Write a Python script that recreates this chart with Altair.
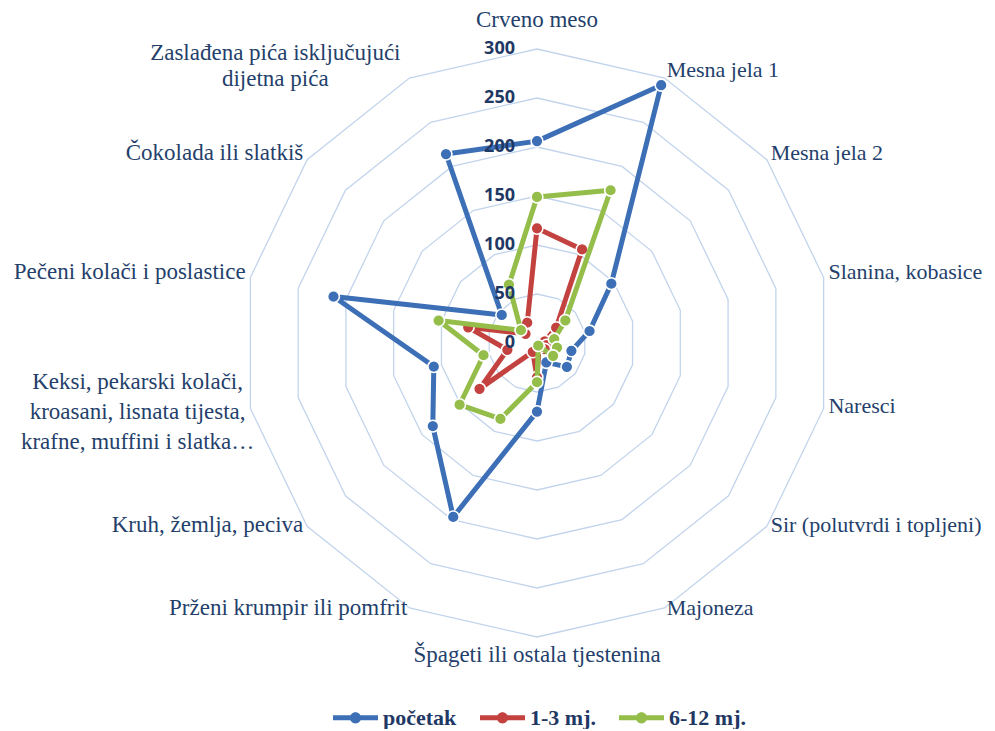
import altair as alt
import pandas as pd

# ---------------- data ----------------
categories = [
    "Crveno meso",
    "Mesna jela 1",
    "Mesna jela 2",
    "Slanina, kobasice",
    "Naresci",
    "Sir (polutvrdi i topljeni)",
    "Majoneza",
    "Špageti ili ostala tjestenina",
    "Prženi krumpir ili pomfrit",
    "Kruh, žemlja, peciva",
    "Keksi, pekarski kolači,\nkroasani, lisnata tijesta,\nkrafne, muffini i slatka…",
    "Pečeni kolači i poslastice",
    "Čokolada ili slatkiš",
    "Zaslađena pića isključujući\ndijetna pića",
]
series_names = ["početak", "1-3 mj.", "6-12 mj."]
pocetak = [206, 292, 97, 55, 36, 39, 22, 70, 197, 136, 108, 213, 46, 214]
mj_1_3 = [117, 106, 25, 8, 10, 10, 5, 35, 10, 75, 31, 72, 15, 23]
mj_6_12 = [149, 173, 37, 18, 21, 21, 3, 40, 86, 101, 56, 103, 21, 66]
ring_values = [50, 100, 150, 200, 250, 300]
tick_values = [0, 50, 100, 150, 200, 250, 300]
colors = ["#3c6fb6", "#c3423f", "#94bd4a"]

N = len(categories)

# ---------------- tables ----------------
rows = []
for name, vals in zip(series_names, [pocetak, mj_1_3, mj_6_12]):
    for i in range(N + 1):
        rows.append({"series": name, "idx": i, "v": vals[i % N]})
series_df = pd.DataFrame(rows)

ring_rows = []
for r in ring_values:
    for i in range(N + 1):
        ring_rows.append({"ring": r, "idx": i, "v": r})
ring_df = pd.DataFrame(ring_rows)

tick_df = pd.DataFrame({"v": tick_values, "idx": [0] * len(tick_values),
                        "label": [str(t) for t in tick_values]})

label_df = pd.DataFrame({"idx": list(range(N)), "label": categories, "v": [305] * N})

# ---------------- layout ----------------
W, H = 979, 721
CX, CY = 529, 335          # centre of the radar within the chart
K = 0.98                   # pixels per unit
xs = alt.Scale(domain=[-CX / K, (W - CX) / K], nice=False, zero=False)
ys = alt.Scale(domain=[-(H - CY) / K, CY / K], nice=False, zero=False)


def polar(ch):
    return ch.transform_calculate(
        ang=f"datum.idx * 2 * PI / {N}"
    ).transform_calculate(
        px="datum.v * sin(datum.ang)", py="datum.v * cos(datum.ang)"
    )


X = alt.X("px:Q", scale=xs, axis=None)
Y = alt.Y("py:Q", scale=ys, axis=None)

LABEL_COLOR = "#243f6b"
NAVY = "#1f3864"

grid = polar(alt.Chart(ring_df)).mark_line(
    color="#c2d4ec", strokeWidth=1.3
).encode(x=X, y=Y, detail="ring:N", order=alt.Order("idx:Q"))

SYMBOL = ("M-1,-0.11L-0.2,-0.11L-0.2,0.11L-1,0.11Z "
          "M0.2,-0.11L1,-0.11L1,0.11L0.2,0.11Z "
          "M-0.25,0A0.25,0.25 0 1 1 0.25,0A0.25,0.25 0 1 1 -0.25,0Z")

legend = alt.Legend(
    title=None, orient="none", legendX=325, legendY=687, direction="horizontal",
    labelFont="Liberation Serif", labelFontSize=22, labelFontWeight="bold",
    labelColor=NAVY, symbolType=SYMBOL, symbolSize=2025, symbolStrokeWidth=0,
    symbolOpacity=1, columnPadding=23, labelOffset=5,
)
color_scale = alt.Scale(domain=series_names, range=colors)

series_layers = []
for name, col in zip(series_names, colors):
    base = polar(alt.Chart(series_df).transform_filter(alt.datum.series == name))
    ln = base.mark_line(color=col, strokeWidth=5, strokeJoin="round").encode(
        x=X, y=Y, order=alt.Order("idx:Q"))
    pt = base.transform_filter(alt.datum.idx < N).mark_circle(
        size=140, opacity=1, stroke="white", strokeWidth=1.6
    ).encode(x=X, y=Y, color=alt.Color("series:N", scale=color_scale, legend=legend))
    series_layers += [ln, pt]

ticks = polar(alt.Chart(tick_df)).mark_text(
    align="right", baseline="middle", dx=-22, font="Open Sans",
    fontWeight="bold", fontSize=18, color=NAVY
).encode(x=X, y=Y, text="label:N")

lab_base = polar(alt.Chart(label_df))
txt = dict(font="Liberation Serif", color=LABEL_COLOR,
           baseline="middle", lineBreak="\n")
lab_top = lab_base.transform_filter(alt.datum.idx == 0).mark_text(
    align="center", dy=-24, fontSize=23, **txt).encode(x=X, y=Y, text="label:N")
lab_bottom = lab_base.transform_filter(alt.datum.idx == 7).mark_text(
    align="center", dy=13, fontSize=23, **txt).encode(x=X, y=Y, text="label:N")
lab_right = lab_base.transform_filter(
    (alt.datum.idx >= 1) & (alt.datum.idx <= 6)).mark_text(
    align="left", dy=-4, fontSize=22, **txt).encode(x=X, y=Y, text="label:N")
lab_left = lab_base.transform_filter(
    (alt.datum.idx == 8) | (alt.datum.idx == 9) | (alt.datum.idx == 11) | (alt.datum.idx == 12)
).mark_text(align="right", dy=-4, fontSize=23, **txt).encode(x=X, y=Y, text="label:N")
lab_keksi = lab_base.transform_filter(alt.datum.idx == 10).mark_text(
    align="center", dx=-108, dy=-28, fontSize=23, lineHeight=30, **txt
).encode(x=X, y=Y, text="label:N")
lab_zasl = lab_base.transform_filter(alt.datum.idx == 13).mark_text(
    align="center", dx=-132, dy=-21, fontSize=23, lineHeight=26, **txt
).encode(x=X, y=Y, text="label:N")

chart = alt.layer(
    grid, *series_layers, ticks,
    lab_top, lab_bottom, lab_right, lab_left, lab_keksi, lab_zasl
).properties(
    width=W, height=H, autosize=alt.AutoSizeParams(type="none"),
    padding=0, background="white"
).configure_view(stroke=None)

chart.save("out.html", embed_options={"renderer": "svg", "actions": False})
